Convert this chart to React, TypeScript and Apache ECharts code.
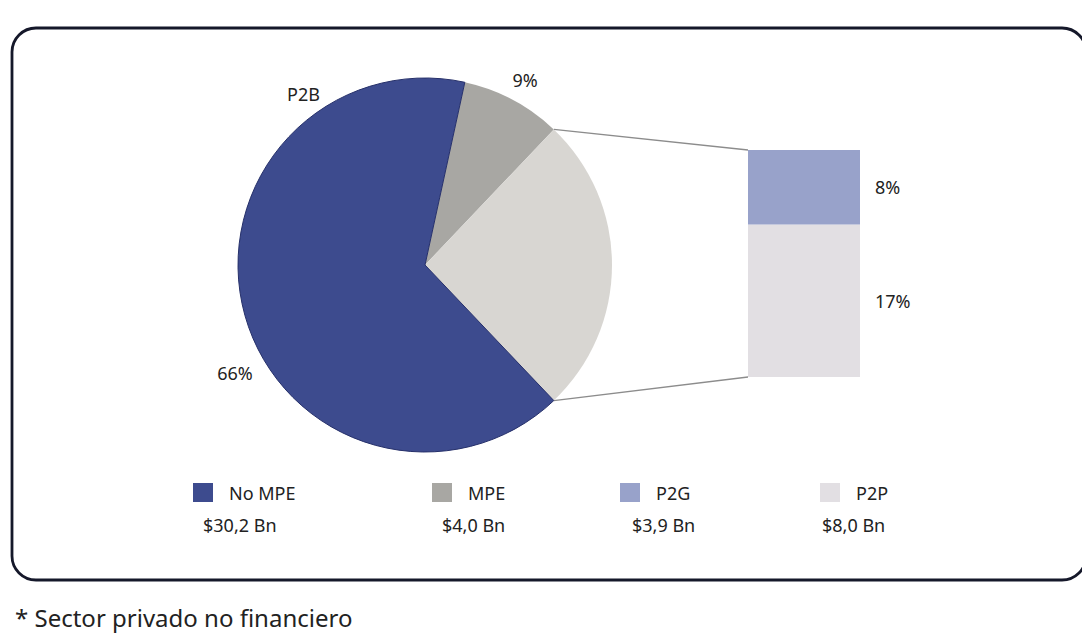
import React, { useEffect, useRef } from "react";
import * as echarts from "echarts";

// ---- data ----
const CATEGORIES = ["No MPE", "MPE", "P2G", "P2P"];
const VALUES = [30.2, 4.0, 3.9, 8.0]; // US$ Bn
const PIE_TITLE = "P2B";
const COMBINED_NAME = "P2G + P2P";
const FOOTNOTE = "* Sector privado no financiero";

// ---- styles ----
const COLORS: Record<string, string> = {
  "No MPE": "#3d4b8e",
  MPE: "#a8a7a3",
  P2G: "#98a2ca",
  P2P: "#e2dfe3",
};
const COMBINED_COLOR = "#d8d6d2";
const FONT = "'Noto Sans', 'Open Sans', sans-serif";
const TEXT = "#222";

// layout
const PIE_C = [425, 265];
const PIE_R = 187;
const BAR = { left: 748, top: 150, width: 112, height: 227 };
const LEGEND_X = [193, 432, 620, 820];
const LEGEND_Y = 483;
const VALUE_X = [203, 442, 632, 822];
const VALUE_Y = 525;

export default function App() {
  const ref = useRef<HTMLDivElement>(null);

  useEffect(() => {
    document.body.style.margin = "0";
    const chart = echarts.init(ref.current!, null, { renderer: "svg" });

    const val = (n: string) => VALUES[CATEGORIES.indexOf(n)];
    const total = VALUES.reduce((a, b) => a + b, 0);
    const combined = val("P2G") + val("P2P");
    const pct = (v: number) => Math.round((v / total) * 100) + "%";

    // combined slice centred on the horizontal (3 o'clock)
    const combDeg = (combined / total) * 360;
    const theta1 = 90 - combDeg / 2; // degrees clockwise from top
    const theta2 = 90 + combDeg / 2;
    const mpeStart = theta1 - (val("MPE") / total) * 360;
    const startAngle = 90 - mpeStart;

    const ptOnPie = (deg: number) => {
      const r = (deg * Math.PI) / 180;
      return [PIE_C[0] + PIE_R * Math.sin(r), PIE_C[1] - PIE_R * Math.cos(r)];
    };
    const p1 = ptOnPie(theta1);
    const p2 = ptOnPie(theta2);

    const labelPos: Record<number, number[]> = { 0: [525, 80], 2: [235, 373] };

    const option: any = {
      animation: false,
      title: {
        text: PIE_TITLE,
        left: 282,
        top: 80,
        textStyle: { fontSize: 18, fontWeight: "normal", color: TEXT, fontFamily: FONT },
      },
      legend: CATEGORIES.map((c, i) => ({
        data: [c],
        left: LEGEND_X[i],
        top: LEGEND_Y,
        padding: 0,
        icon: "rect",
        itemWidth: 20,
        itemHeight: 19,
        selectedMode: false,
        itemStyle: { borderWidth: 0 },
        textStyle: { fontSize: 18, color: TEXT, fontFamily: FONT, padding: [0, 0, 0, 11] },
      })),
      grid: { left: BAR.left, top: BAR.top, width: BAR.width, height: BAR.height },
      xAxis: { type: "category", data: [""], show: false },
      yAxis: { type: "value", min: 0, max: combined, show: false },
      series: [
        {
          type: "pie",
          center: PIE_C,
          radius: PIE_R,
          startAngle,
          clockwise: true,
          data: [
            { name: "MPE", value: val("MPE"), itemStyle: { color: COLORS.MPE } },
            {
              name: COMBINED_NAME,
              value: combined,
              itemStyle: { color: COMBINED_COLOR },
              label: { show: false },
            },
            {
              name: "No MPE",
              value: val("No MPE"),
              itemStyle: { color: COLORS["No MPE"], borderColor: "#26306a", borderWidth: 1 },
            },
          ],
          label: {
            show: true,
            position: "outside",
            formatter: (p: any) => pct(p.value),
            fontSize: 18,
            color: TEXT,
            fontFamily: FONT,
          },
          labelLine: { show: false },
          labelLayout: (p: any) => {
            const pos = labelPos[p.dataIndex];
            if (!pos) return {};
            return { x: pos[0], y: pos[1], align: "center", verticalAlign: "middle" };
          },
        },
        ...["P2P", "P2G"].map((n) => ({
          type: "bar",
          name: n,
          stack: "oth",
          barWidth: "100%",
          data: [val(n)],
          itemStyle: { color: COLORS[n] },
          label: {
            show: true,
            position: "right",
            distance: 15,
            formatter: (p: any) => pct(p.value),
            fontSize: 18,
            color: TEXT,
            fontFamily: FONT,
          },
        })),
      ],
      graphic: [
        {
          type: "rect",
          shape: { x: 12, y: 28, width: 1074, height: 552, r: 24 },
          style: { fill: "none", stroke: "#15182a", lineWidth: 2.8 },
          z: 0,
        },
        {
          type: "line",
          shape: { x1: p1[0], y1: p1[1], x2: BAR.left, y2: BAR.top },
          style: { stroke: "#8c8c8c", lineWidth: 1.3 },
        },
        {
          type: "line",
          shape: { x1: p2[0], y1: p2[1], x2: BAR.left, y2: BAR.top + BAR.height },
          style: { stroke: "#8c8c8c", lineWidth: 1.3 },
        },
        ...CATEGORIES.map((c, i) => ({
          type: "text",
          x: VALUE_X[i],
          y: VALUE_Y,
          style: {
            text: "$" + VALUES[i].toFixed(1).replace(".", ",") + " Bn",
            fontSize: 18,
            fill: TEXT,
            fontFamily: FONT,
            verticalAlign: "middle",
          },
        })),
        {
          type: "text",
          x: 15,
          y: 617,
          style: {
            text: FOOTNOTE,
            fontSize: 24,
            fill: TEXT,
            fontFamily: FONT,
            verticalAlign: "middle",
          },
        },
      ],
    };

    chart.setOption(option);
    return () => chart.dispose();
  }, []);

  return <div ref={ref} style={{ width: 1082, height: 639 }} />;
}
